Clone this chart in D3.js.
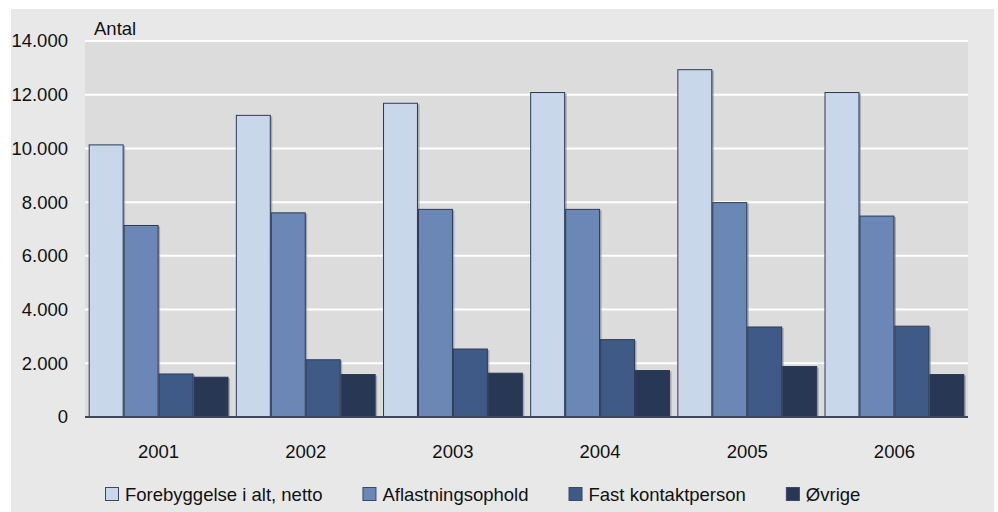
<!DOCTYPE html>
<html>
<head>
<meta charset="utf-8">
<script src="https://cdn.jsdelivr.net/npm/d3@7"></script>
<style>
  body { margin: 0; background: #fff; }
  text { font-family: "Liberation Sans", Arial, sans-serif; font-size: 18.5px; fill: #111; }
</style>
</head>
<body>
<div id="chart-area"></div>
<script>
// data
var years = ['2001', '2002', '2003', '2004', '2005', '2006'];
var seriesNames = ['Forebyggelse i alt, netto', 'Aflastningsophold', 'Fast kontaktperson', 'Øvrige'];
var forebyggelse = [10150, 11250, 11700, 12100, 12950, 12100];
var aflastning   = [7150, 7620, 7750, 7750, 8000, 7500];
var fastKontakt  = [1620, 2150, 2550, 2900, 3370, 3400];
var ovrige       = [1500, 1600, 1650, 1750, 1900, 1600];
var yTicks = [0, 2000, 4000, 6000, 8000, 10000, 12000, 14000];
var colors = ['#c8d7e9', '#6a87b5', '#405a87', '#283753'];

var allSeries = [forebyggelse, aflastning, fastKontakt, ovrige];

var W = 998, H = 512;
var margin = { top: 41, right: 30, bottom: 95, left: 85 },
    width = W - margin.left - margin.right,
    height = H - margin.top - margin.bottom;

var svg = d3.select('#chart-area').append('svg')
    .attr('width', W)
    .attr('height', H);

// outer panel
svg.append('rect')
    .attr('x', 11).attr('y', 9)
    .attr('width', 983).attr('height', 503)
    .attr('fill', '#e8e8e8');

var g = svg.append('g')
    .attr('transform', 'translate(' + margin.left + ',' + margin.top + ')');

// plot background
g.append('rect')
    .attr('width', width)
    .attr('height', height)
    .attr('fill', '#dcdcdc');

//scales
var x0 = d3.scaleBand()
    .domain(years)
    .range([0, width])
    .paddingInner(0.05)
    .paddingOuter(0.025);

var x1 = d3.scaleBand()
    .domain(d3.range(seriesNames.length))
    .range([0, x0.bandwidth()]);

var y = d3.scaleLinear()
    .domain([0, 14000])
    .range([height, 0]);

var locale = d3.formatLocale({ decimal: ',', thousands: '.', grouping: [3], currency: ['', ''] });
var fmt = locale.format(',');

//gridlines
g.selectAll('.grid')
    .data(yTicks.filter(function(d){ return d > 0; }))
    .enter().append('line')
    .attr('class', 'grid')
    .attr('x1', 0).attr('x2', width)
    .attr('y1', function(d){ return y(d); })
    .attr('y2', function(d){ return y(d); })
    .attr('stroke', '#fff')
    .attr('stroke-width', 2);

//y axis
var yAxis = g.append('g')
    .call(d3.axisLeft(y).tickValues(yTicks).tickSize(0).tickPadding(17).tickFormat(fmt));
yAxis.select('.domain').remove();
yAxis.selectAll('text')
    .style('font-size', '18.5px')
    .style('font-family', '"Liberation Sans", Arial, sans-serif')
    .attr('fill', '#111');

//x axis
var xAxis = g.append('g')
    .attr('transform', 'translate(0,' + height + ')')
    .call(d3.axisBottom(x0).tickSize(0).tickPadding(28));
xAxis.select('.domain').remove();
xAxis.selectAll('text')
    .style('font-size', '18.5px')
    .style('font-family', '"Liberation Sans", Arial, sans-serif')
    .attr('fill', '#111');

// y label
g.append('text')
    .attr('x', 9)
    .attr('y', -6)
    .text('Antal');

//bars
var groups = g.selectAll('.year')
    .data(years)
    .enter().append('g')
    .attr('class', 'year')
    .attr('transform', function(d){ return 'translate(' + x0(d) + ',0)'; });

var barData = function(d, i) {
    return allSeries.map(function(s, k){ return { k: k, value: s[i] }; });
};

// soft shadow to the right of each bar
groups.selectAll('.shadow')
    .data(barData)
    .enter().append('rect')
    .attr('class', 'shadow')
    .attr('x', function(d){ return x1(d.k) + 1.5; })
    .attr('y', function(d){ return y(d.value) + 1.5; })
    .attr('width', x1.bandwidth())
    .attr('height', function(d){ return height - y(d.value) - 1.5; })
    .attr('fill', '#7d8594')
    .attr('opacity', 0.6);

groups.selectAll('.bar')
    .data(barData)
    .enter().append('rect')
    .attr('class', 'bar')
    .attr('x', function(d){ return x1(d.k) + 0.5; })
    .attr('y', function(d){ return y(d.value) + 0.5; })
    .attr('width', x1.bandwidth() - 1)
    .attr('height', function(d){ return height - y(d.value) - 0.5; })
    .attr('fill', function(d){ return colors[d.k]; })
    .attr('stroke', '#2c3b58')
    .attr('stroke-width', 1);

// baseline
g.append('line')
    .attr('x1', 0).attr('x2', width)
    .attr('y1', height).attr('y2', height)
    .attr('stroke', '#3e4759')
    .attr('stroke-width', 2);

//legend
var legend = svg.append('g').attr('transform', 'translate(105,487)');
var lx = 0;
seriesNames.forEach(function(name, k) {
    var item = legend.append('g').attr('transform', 'translate(' + lx + ',0)');
    item.append('rect')
        .attr('x', 0.5).attr('y', 0.5)
        .attr('width', 13).attr('height', 13)
        .attr('fill', colors[k])
        .attr('stroke', '#3c4866')
        .attr('stroke-width', 1);
    var t = item.append('text')
        .attr('x', 20)
        .attr('y', 14)
        .text(name);
    lx += 20 + t.node().getComputedTextLength() + 40;
});
</script>
</body>
</html>
